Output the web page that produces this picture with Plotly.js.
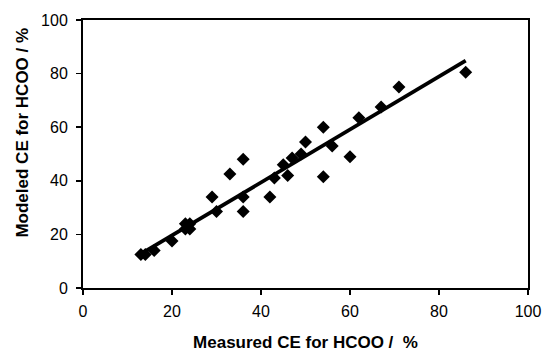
<!DOCTYPE html>
<html>
<head>
<meta charset="utf-8">
<script src="https://cdn.plot.ly/plotly-3.0.1.min.js"></script>
<style>html,body{margin:0;padding:0;background:#fff;}#chart{width:545px;height:352px;}</style>
</head>
<body>
<div id="chart"></div>
<script>
var measured = [13, 14, 16, 20, 23, 24, 23, 24, 29, 30, 33, 36, 36, 36, 42, 43, 45, 46, 47, 49, 50, 54, 54, 56, 60, 62, 67, 71, 86];
var modeled  = [12.5, 12.5, 14, 17.5, 22, 22, 24, 24, 34, 28.5, 42.5, 48, 34, 28.5, 34, 41, 46, 42, 48.5, 50, 54.5, 60, 41.5, 53, 49, 63.5, 67.5, 75, 80.5];
var fitX = [13, 86];
var fitY = [12.7, 84.8];
var ticks = [0, 20, 40, 60, 80, 100];
var xTitle = '<b>Measured CE for HCOO /&nbsp; %</b>';
var yTitle = '<b>Modeled CE for HCOO / %</b>';

var font = 'Liberation Sans, Arial, sans-serif';
var data = [
  {x: fitX, y: fitY, mode: 'lines', line: {color: '#000', width: 3.8}, hoverinfo: 'none'},
  {x: measured, y: modeled, mode: 'markers', marker: {symbol: 'diamond', size: 10, color: '#000'}}
];
var axisCommon = {
  range: [0, 100], tickvals: ticks, ticktext: ticks.map(String),
  showgrid: false, zeroline: false, showline: true, linecolor: '#000', linewidth: 2,
  mirror: true, ticks: 'outside', ticklen: 5, tickwidth: 1.5, tickcolor: '#000',
  tickfont: {family: font, size: 16, color: '#000'}
};
var layout = {
  width: 545, height: 352,
  margin: {l: 83, r: 17, t: 20, b: 64},
  paper_bgcolor: '#fff', plot_bgcolor: '#fff',
  showlegend: false,
  xaxis: Object.assign({}, axisCommon, {
    ticklabelstandoff: 3,
    title: {text: xTitle, font: {family: font, size: 17, color: '#000'}, standoff: 18}
  }),
  yaxis: Object.assign({}, axisCommon, {
    ticklabelstandoff: 5
  }),
  annotations: [{
    text: yTitle, textangle: -90, showarrow: false,
    xref: 'paper', yref: 'paper', x: 0, y: 0.58, xanchor: 'center', yanchor: 'middle',
    xshift: -60, font: {family: font, size: 17, color: '#000'}
  }]
};
Plotly.newPlot('chart', data, layout, {staticPlot: true, displayModeBar: false});
</script>
</body>
</html>
